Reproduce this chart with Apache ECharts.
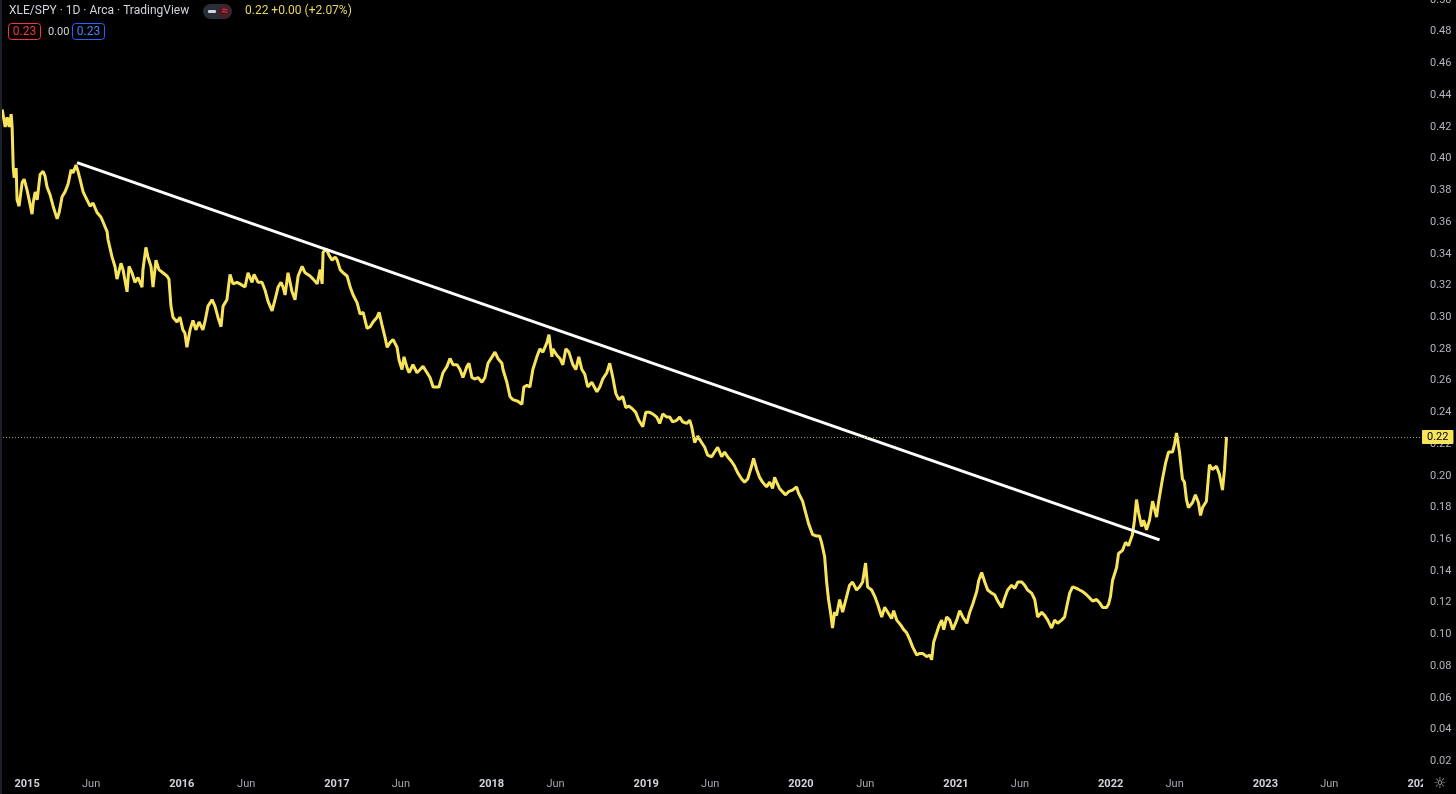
<!DOCTYPE html>
<html><head><meta charset="utf-8">
<script src="https://cdn.jsdelivr.net/npm/echarts@6/dist/echarts.min.js"></script>
<style>html,body{margin:0;padding:0;background:#000;overflow:hidden}#c{width:1456px;height:794px}</style>
</head><body><div id="c"></div>
<script>
// Dates as decimal years
const dates = [
2014.839,2014.851,2014.858,2014.871,2014.884,2014.897,2014.903,2014.910,2014.916,2014.929,
2014.935,2014.948,2014.968,2014.981,2015.000,2015.013,2015.032,2015.039,2015.052,2015.065,
2015.084,2015.103,2015.116,2015.129,2015.149,2015.168,2015.194,2015.207,2015.226,2015.245,
2015.265,2015.284,2015.297,2015.316,2015.329,2015.342,2015.362,2015.387,2015.407,2015.426,
2015.452,2015.478,2015.491,2015.517,2015.523,2015.549,2015.568,2015.581,2015.607,2015.620,
2015.646,2015.659,2015.678,2015.697,2015.717,2015.743,2015.749,2015.768,2015.781,2015.801,
2015.814,2015.833,2015.852,2015.878,2015.904,2015.917,2015.930,2015.943,2015.969,2015.988,
2016.007,2016.020,2016.033,2016.053,2016.072,2016.091,2016.111,2016.136,2016.149,2016.169,
2016.195,2016.214,2016.233,2016.253,2016.266,2016.291,2016.311,2016.330,2016.356,2016.375,
2016.408,2016.427,2016.453,2016.466,2016.492,2016.517,2016.537,2016.556,2016.582,2016.601,
2016.621,2016.640,2016.653,2016.666,2016.685,2016.711,2016.730,2016.750,2016.776,2016.795,
2016.827,2016.847,2016.873,2016.892,2016.905,2016.911,2016.931,2016.950,2016.969,2016.989,
2017.002,2017.021,2017.040,2017.066,2017.086,2017.105,2017.131,2017.150,2017.170,2017.195,
2017.215,2017.234,2017.260,2017.273,2017.292,2017.312,2017.325,2017.344,2017.363,2017.389,
2017.402,2017.421,2017.434,2017.454,2017.467,2017.492,2017.518,2017.538,2017.557,2017.583,
2017.602,2017.622,2017.641,2017.660,2017.686,2017.712,2017.731,2017.751,2017.777,2017.796,
2017.815,2017.841,2017.854,2017.873,2017.893,2017.912,2017.938,2017.957,2017.977,2018.003,
2018.022,2018.041,2018.067,2018.074,2018.099,2018.119,2018.138,2018.170,2018.196,2018.209,
2018.229,2018.248,2018.267,2018.293,2018.312,2018.332,2018.358,2018.371,2018.390,2018.396,
2018.422,2018.442,2018.461,2018.480,2018.500,2018.526,2018.545,2018.564,2018.584,2018.603,
2018.622,2018.648,2018.681,2018.700,2018.719,2018.745,2018.764,2018.784,2018.803,2018.823,
2018.848,2018.868,2018.887,2018.913,2018.932,2018.952,2018.978,2018.997,2019.023,2019.042,
2019.068,2019.087,2019.107,2019.133,2019.152,2019.171,2019.197,2019.216,2019.236,2019.262,
2019.281,2019.294,2019.313,2019.333,2019.358,2019.378,2019.397,2019.423,2019.442,2019.462,
2019.488,2019.507,2019.526,2019.552,2019.572,2019.591,2019.617,2019.636,2019.656,2019.681,
2019.694,2019.714,2019.733,2019.752,2019.778,2019.798,2019.817,2019.830,2019.843,2019.862,
2019.881,2019.901,2019.920,2019.946,2019.972,2019.985,2020.011,2020.030,2020.049,2020.075,
2020.101,2020.120,2020.133,2020.153,2020.166,2020.178,2020.191,2020.204,2020.217,2020.230,
2020.250,2020.269,2020.295,2020.314,2020.333,2020.359,2020.379,2020.398,2020.417,2020.430,
2020.456,2020.476,2020.495,2020.521,2020.540,2020.560,2020.585,2020.598,2020.618,2020.643,
2020.663,2020.682,2020.701,2020.721,2020.747,2020.766,2020.785,2020.811,2020.831,2020.843,
2020.856,2020.876,2020.889,2020.908,2020.921,2020.940,2020.960,2020.979,2021.005,2021.024,
2021.044,2021.070,2021.089,2021.108,2021.134,2021.147,2021.166,2021.186,2021.205,2021.231,
2021.250,2021.270,2021.296,2021.315,2021.334,2021.360,2021.380,2021.399,2021.425,2021.444,
2021.463,2021.489,2021.509,2021.528,2021.554,2021.573,2021.593,2021.618,2021.638,2021.657,
2021.683,2021.702,2021.715,2021.735,2021.754,2021.780,2021.799,2021.819,2021.844,2021.864,
2021.883,2021.909,2021.928,2021.948,2021.974,2021.986,2021.999,2022.012,2022.038,2022.051,
2022.077,2022.096,2022.116,2022.141,2022.154,2022.167,2022.180,2022.200,2022.213,2022.232,
2022.251,2022.271,2022.297,2022.309,2022.335,2022.355,2022.374,2022.400,2022.413,2022.426,
2022.445,2022.464,2022.477,2022.490,2022.503,2022.529,2022.548,2022.568,2022.581,2022.594,
2022.619,2022.639,2022.658,2022.684,2022.703,2022.723,2022.736,2022.749
];
// XLE/SPY ratio values
const ratio = [
0.431,0.431,0.420,0.426,0.420,0.428,0.420,0.395,0.388,0.394,
0.374,0.370,0.385,0.387,0.380,0.374,0.365,0.372,0.379,0.374,
0.390,0.392,0.389,0.382,0.377,0.370,0.362,0.366,0.376,0.379,
0.384,0.393,0.391,0.396,0.392,0.387,0.379,0.374,0.370,0.372,
0.366,0.363,0.360,0.354,0.349,0.338,0.332,0.324,0.334,0.330,
0.316,0.332,0.328,0.322,0.325,0.319,0.330,0.344,0.338,0.332,
0.319,0.336,0.330,0.328,0.326,0.324,0.307,0.300,0.297,0.300,
0.292,0.290,0.281,0.292,0.298,0.292,0.297,0.292,0.297,0.307,
0.311,0.307,0.300,0.294,0.307,0.311,0.327,0.321,0.322,0.321,
0.319,0.328,0.322,0.327,0.322,0.322,0.317,0.310,0.304,0.311,
0.319,0.322,0.319,0.314,0.328,0.316,0.311,0.326,0.332,0.328,
0.326,0.324,0.321,0.330,0.321,0.341,0.343,0.339,0.336,0.338,
0.336,0.330,0.328,0.326,0.319,0.314,0.309,0.302,0.303,0.293,
0.294,0.297,0.300,0.303,0.295,0.287,0.281,0.284,0.286,0.281,
0.273,0.267,0.275,0.268,0.265,0.270,0.265,0.267,0.269,0.265,
0.262,0.256,0.256,0.256,0.265,0.269,0.274,0.270,0.270,0.267,
0.262,0.269,0.271,0.262,0.261,0.262,0.259,0.262,0.271,0.275,
0.278,0.274,0.271,0.267,0.259,0.250,0.248,0.247,0.245,0.256,
0.257,0.256,0.267,0.275,0.280,0.278,0.284,0.289,0.275,0.280,
0.276,0.274,0.270,0.280,0.278,0.270,0.267,0.275,0.267,0.264,
0.256,0.259,0.253,0.256,0.261,0.265,0.271,0.262,0.252,0.248,
0.250,0.243,0.244,0.242,0.240,0.235,0.231,0.240,0.240,0.239,
0.237,0.233,0.239,0.237,0.237,0.234,0.235,0.237,0.234,0.233,
0.235,0.231,0.221,0.225,0.221,0.218,0.213,0.212,0.215,0.218,
0.212,0.215,0.212,0.209,0.206,0.202,0.198,0.196,0.198,0.206,
0.211,0.204,0.199,0.196,0.193,0.196,0.192,0.199,0.196,0.192,
0.190,0.188,0.190,0.191,0.193,0.189,0.184,0.177,0.170,0.163,
0.162,0.162,0.158,0.149,0.133,0.122,0.114,0.104,0.114,0.112,
0.122,0.114,0.124,0.131,0.133,0.128,0.130,0.133,0.145,0.130,
0.128,0.124,0.119,0.111,0.117,0.114,0.110,0.115,0.109,0.106,
0.103,0.101,0.097,0.092,0.087,0.088,0.088,0.086,0.087,0.084,
0.095,0.101,0.105,0.109,0.103,0.111,0.109,0.103,0.109,0.115,
0.111,0.107,0.114,0.119,0.127,0.134,0.139,0.133,0.128,0.126,
0.125,0.121,0.117,0.123,0.128,0.131,0.129,0.133,0.133,0.131,
0.128,0.126,0.122,0.111,0.114,0.112,0.109,0.104,0.109,0.107,
0.109,0.111,0.117,0.126,0.130,0.129,0.128,0.127,0.125,0.123,
0.121,0.122,0.120,0.117,0.117,0.119,0.124,0.134,0.142,0.151,
0.153,0.158,0.156,0.163,0.172,0.185,0.177,0.168,0.172,0.166,
0.172,0.184,0.174,0.183,0.198,0.208,0.215,0.215,0.220,0.227,
0.215,0.198,0.196,0.185,0.180,0.183,0.188,0.183,0.175,0.180,
0.184,0.207,0.204,0.206,0.201,0.191,0.204,0.2245
];
// Trend line drawing (two anchor points)
const trendDates = [2015.323, 2022.316];
const trendValues = [0.3975, 0.1596];
// Time axis tick labels
const tickDates = ['2015-01-01','2015-06-01','2016-01-01','2016-06-01','2017-01-01','2017-06-01','2018-01-01','2018-06-01','2019-01-01','2019-06-01','2020-01-01','2020-06-01','2021-01-01','2021-06-01','2022-01-01','2022-06-01','2023-01-01','2023-06-01','2024-01-01'];
const tickLabels = ['2015','Jun','2016','Jun','2017','Jun','2018','Jun','2019','Jun','2020','Jun','2021','Jun','2022','Jun','2023','Jun','2024'];
// Header texts
const symbolTitle = 'XLE/SPY · 1D · Arca · TradingView';
const headerQuote = '0.22 +0.00 (+2.07%)';
const sellText = '0.23', spreadText = '0.00', buyText = '0.23';

function parseDate(s){ const p = s.split('-').map(Number); return Date.UTC(p[0], p[1]-1, p[2]); }
function yearToTs(y){ const yr = Math.floor(y); const a = Date.UTC(yr,0,1); const b = Date.UTC(yr+1,0,1); return a + (y-yr)*(b-a); }

const tickTs = tickDates.map(parseDate);
const n = Math.min(dates.length, ratio.length);
const lineData = [];
for (let i = 0; i < n; i++) lineData.push([yearToTs(dates[i]), ratio[i]]);
const trendData = trendDates.map((d,i)=>[yearToTs(d), trendValues[i]]);
const lastVal = ratio[n-1];

const chart = echarts.init(document.getElementById('c'), null, {renderer:'canvas'});
const FONT = 'Roboto, "Noto Sans", sans-serif';
chart.setOption({
  backgroundColor: '#000000',
  animation: false,
  grid: {left: 0, right: 36, top: 0, bottom: 1, containLabel: false, outerBoundsMode: 'none'},
  xAxis: {
    type: 'value',
    min: parseDate('2014-10-29'),
    max: parseDate('2024-01-01'),
    axisLine: {show: false}, axisTick: {show: false}, splitLine: {show: false},
    axisLabel: {
      inside: true, margin: 3, hideOverlap: false, showMinLabel: true, showMaxLabel: true,
      customValues: tickTs,
      formatter: function(v){
        let idx = 0, best = Infinity;
        for (let i = 0; i < tickTs.length; i++){ const d = Math.abs(tickTs[i]-v); if (d < best){best = d; idx = i;} }
        const t = tickLabels[idx];
        return t === 'Jun' ? '{m|' + t + '}' : '{y|' + t + '}';
      },
      rich: {
        y: {color: '#d1d4dc', fontWeight: 'bold', fontSize: 11, fontFamily: FONT},
        m: {color: '#a3a6af', fontSize: 11, fontFamily: FONT}
      }
    }
  },
  yAxis: {
    type: 'value', position: 'right', min: 0, max: 0.5, interval: 0.02,
    axisLine: {show: false}, axisTick: {show: false}, splitLine: {show: false},
    axisLabel: {color: '#b2b5be', fontSize: 11, fontFamily: FONT, margin: 10,
      formatter: v => v === 0 ? '' : v.toFixed(2)}
  },
  series: [
    {
      name: 'XLE/SPY', type: 'line', data: lineData, showSymbol: false, z: 2,
      lineStyle: {color: '#f7e45c', width: 3}, itemStyle: {color: '#f7e45c'},
      markLine: {
        silent: true, symbol: 'none', animation: false, precision: 4,
        data: [{yAxis: lastVal}],
        lineStyle: {color: '#a8983c', type: [1, 2], width: 1},
        label: {show: true, position: 'end', distance: 2, formatter: () => lastVal.toFixed(2),
          backgroundColor: '#f7e45c', color: '#000', fontSize: 11, fontFamily: FONT, padding: [2, 5, 1, 5], borderRadius: 1}
      }
    },
    {
      name: 'Trend', type: 'line', data: trendData, showSymbol: false, z: 3,
      lineStyle: {color: '#ffffff', width: 3}, itemStyle: {color: '#ffffff'}
    }
  ],
  graphic: [
    {type: 'rect', left: 0, top: 0, shape: {width: 2, height: 794}, style: {fill: '#1e222d'}, z: 50},
    {type: 'text', left: 9, top: 5, style: {text: symbolTitle, fill: '#d1d4dc', font: '12px ' + FONT}, z: 50},
    {type: 'rect', shape: {x: 203, y: 4, width: 29, height: 15, r: 7.5}, style: {fill: '#2a2e39'}, z: 50},
    {type: 'rect', shape: {x: 218, y: 5, width: 13, height: 13, r: 6.5}, style: {fill: '#4a1d27'}, z: 51},
    {type: 'rect', shape: {x: 208, y: 10, width: 8, height: 3, r: 1}, style: {fill: '#d1d4dc'}, z: 52},
    {type: 'text', style: {x: 224.5, y: 11.5, text: '≈', fill: '#f23645', font: '11px ' + FONT, align: 'center', verticalAlign: 'middle'}, z: 52},
    {type: 'text', left: 245, top: 5, style: {text: headerQuote, fill: '#e7d55c', font: '12px ' + FONT}, z: 50},
    {type: 'rect', shape: {x: 8.5, y: 23.5, width: 32, height: 16, r: 3}, style: {fill: 'rgba(0,0,0,0)', stroke: '#f23645', lineWidth: 1}, z: 50},
    {type: 'text', style: {x: 24.5, y: 32, text: sellText, fill: '#f23645', font: '12px ' + FONT, align: 'center', verticalAlign: 'middle'}, z: 51},
    {type: 'text', style: {x: 48, y: 32, text: spreadText, fill: '#d1d4dc', font: '11px ' + FONT, verticalAlign: 'middle'}, z: 51},
    {type: 'rect', shape: {x: 72.5, y: 23.5, width: 32, height: 16, r: 3}, style: {fill: 'rgba(0,0,0,0)', stroke: '#2962ff', lineWidth: 1}, z: 50},
    {type: 'text', style: {x: 88.5, y: 32, text: buyText, fill: '#4d7fff', font: '12px ' + FONT, align: 'center', verticalAlign: 'middle'}, z: 51},
    {type: 'rect', shape: {x: 1423, y: 774, width: 33, height: 20}, style: {fill: '#000'}, z: 100},
    {type: 'text', style: {x: 1440, y: 784, text: '☼', fill: '#b2b5be', font: '15px "DejaVu Sans"', align: 'center', verticalAlign: 'middle'}, z: 101}
  ]
});
</script>
</body></html>
